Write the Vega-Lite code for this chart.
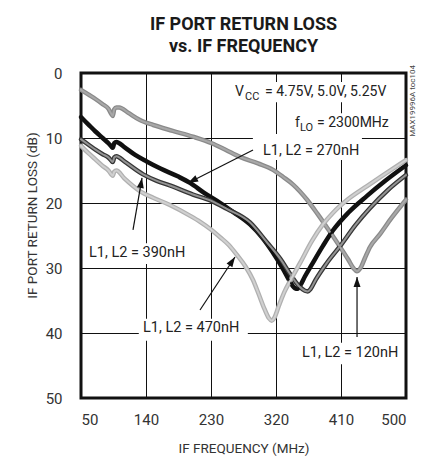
{
  "$schema": "https://vega.github.io/schema/vega-lite/v6.json",
  "width": 325,
  "height": 325,
  "autosize": "none",
  "padding": {"left": 81, "top": 73, "right": 17, "bottom": 58},
  "background": "white",
  "config": {
    "view": {"stroke": "#111", "strokeWidth": 3},
    "font": "Roboto",
    "axis": {
      "domain": false,
      "ticks": false,
      "grid": true,
      "gridColor": "#111",
      "gridWidth": 1,
      "gridOpacity": 1,
      "labelFont": "Roboto",
      "labelFontSize": 15,
      "labelColor": "#333",
      "titleFont": "Roboto",
      "titleFontSize": 13.5,
      "titleFontWeight": "normal",
      "titleColor": "#333"
    }
  },
  "title": {
    "text": ["IF PORT RETURN LOSS", "vs. IF FREQUENCY"],
    "font": "Roboto",
    "fontSize": 18,
    "fontWeight": "bold",
    "color": "#1a1a1a",
    "lineHeight": 22,
    "offset": 9,
    "anchor": "middle"
  },
  "datasets": {
    "curves": [
      {"c": "120", "f": 50, "db": 2.6}, {"c": "120", "f": 60, "db": 3.3}, {"c": "120", "f": 70, "db": 4.0}, {"c": "120", "f": 80, "db": 4.8}, {"c": "120", "f": 88, "db": 5.5}, {"c": "120", "f": 92, "db": 6.3}, {"c": "120", "f": 94, "db": 6.6}, {"c": "120", "f": 96, "db": 5.6}, {"c": "120", "f": 99, "db": 5.3}, {"c": "120", "f": 103, "db": 5.3}, {"c": "120", "f": 115, "db": 6.1}, {"c": "120", "f": 131, "db": 7.2}, {"c": "120", "f": 150, "db": 8.0}, {"c": "120", "f": 177, "db": 8.9}, {"c": "120", "f": 205, "db": 9.8}, {"c": "120", "f": 231, "db": 10.8}, {"c": "120", "f": 250, "db": 11.8}, {"c": "120", "f": 270, "db": 12.9}, {"c": "120", "f": 295, "db": 13.9}, {"c": "120", "f": 316, "db": 14.9}, {"c": "120", "f": 330, "db": 16.0}, {"c": "120", "f": 344, "db": 17.2}, {"c": "120", "f": 363, "db": 19.5}, {"c": "120", "f": 377, "db": 21.6}, {"c": "120", "f": 392, "db": 24.0}, {"c": "120", "f": 409, "db": 26.8}, {"c": "120", "f": 420, "db": 28.7}, {"c": "120", "f": 427, "db": 30.0}, {"c": "120", "f": 432, "db": 30.5}, {"c": "120", "f": 437, "db": 30.0}, {"c": "120", "f": 443, "db": 28.5}, {"c": "120", "f": 450, "db": 26.8}, {"c": "120", "f": 464, "db": 24.8}, {"c": "120", "f": 480, "db": 22.3}, {"c": "120", "f": 500, "db": 19.5},
      {"c": "270", "f": 50, "db": 6.8}, {"c": "270", "f": 60, "db": 7.9}, {"c": "270", "f": 70, "db": 9.0}, {"c": "270", "f": 80, "db": 10.0}, {"c": "270", "f": 88, "db": 10.8}, {"c": "270", "f": 92, "db": 11.3}, {"c": "270", "f": 94, "db": 11.5}, {"c": "270", "f": 96, "db": 10.8}, {"c": "270", "f": 99, "db": 10.6}, {"c": "270", "f": 110, "db": 11.4}, {"c": "270", "f": 125, "db": 12.6}, {"c": "270", "f": 141, "db": 13.6}, {"c": "270", "f": 160, "db": 14.7}, {"c": "270", "f": 184, "db": 15.9}, {"c": "270", "f": 201, "db": 16.9}, {"c": "270", "f": 220, "db": 18.4}, {"c": "270", "f": 243, "db": 20.0}, {"c": "270", "f": 261, "db": 21.4}, {"c": "270", "f": 284, "db": 23.3}, {"c": "270", "f": 300, "db": 25.2}, {"c": "270", "f": 315, "db": 27.5}, {"c": "270", "f": 330, "db": 30.2}, {"c": "270", "f": 340, "db": 32.2}, {"c": "270", "f": 346, "db": 33.1}, {"c": "270", "f": 350, "db": 33.2}, {"c": "270", "f": 354, "db": 32.6}, {"c": "270", "f": 360, "db": 31.3}, {"c": "270", "f": 370, "db": 29.4}, {"c": "270", "f": 385, "db": 26.6}, {"c": "270", "f": 399, "db": 24.2}, {"c": "270", "f": 420, "db": 21.5}, {"c": "270", "f": 446, "db": 18.9}, {"c": "270", "f": 470, "db": 16.7}, {"c": "270", "f": 500, "db": 14.2},
      {"c": "390", "f": 50, "db": 10.2}, {"c": "390", "f": 60, "db": 11.0}, {"c": "390", "f": 70, "db": 11.8}, {"c": "390", "f": 80, "db": 12.5}, {"c": "390", "f": 88, "db": 13.0}, {"c": "390", "f": 92, "db": 13.5}, {"c": "390", "f": 94, "db": 13.7}, {"c": "390", "f": 96, "db": 13.0}, {"c": "390", "f": 99, "db": 12.8}, {"c": "390", "f": 110, "db": 13.6}, {"c": "390", "f": 136, "db": 15.6}, {"c": "390", "f": 155, "db": 16.6}, {"c": "390", "f": 173, "db": 17.3}, {"c": "390", "f": 205, "db": 18.7}, {"c": "390", "f": 229, "db": 19.6}, {"c": "390", "f": 252, "db": 20.9}, {"c": "390", "f": 284, "db": 23.0}, {"c": "390", "f": 307, "db": 26.0}, {"c": "390", "f": 326, "db": 28.6}, {"c": "390", "f": 340, "db": 31.0}, {"c": "390", "f": 352, "db": 32.8}, {"c": "390", "f": 360, "db": 33.5}, {"c": "390", "f": 364, "db": 33.6}, {"c": "390", "f": 368, "db": 33.2}, {"c": "390", "f": 375, "db": 31.8}, {"c": "390", "f": 390, "db": 29.3}, {"c": "390", "f": 409, "db": 26.6}, {"c": "390", "f": 430, "db": 23.4}, {"c": "390", "f": 450, "db": 20.8}, {"c": "390", "f": 475, "db": 18.0}, {"c": "390", "f": 500, "db": 15.7},
      {"c": "470", "f": 50, "db": 11.2}, {"c": "470", "f": 60, "db": 12.3}, {"c": "470", "f": 70, "db": 13.3}, {"c": "470", "f": 80, "db": 14.3}, {"c": "470", "f": 88, "db": 15.0}, {"c": "470", "f": 92, "db": 15.6}, {"c": "470", "f": 94, "db": 15.8}, {"c": "470", "f": 96, "db": 15.2}, {"c": "470", "f": 99, "db": 15.0}, {"c": "470", "f": 110, "db": 16.2}, {"c": "470", "f": 132, "db": 18.2}, {"c": "470", "f": 150, "db": 19.2}, {"c": "470", "f": 173, "db": 20.3}, {"c": "470", "f": 200, "db": 21.9}, {"c": "470", "f": 215, "db": 22.9}, {"c": "470", "f": 229, "db": 24.0}, {"c": "470", "f": 243, "db": 25.3}, {"c": "470", "f": 255, "db": 26.5}, {"c": "470", "f": 266, "db": 28.0}, {"c": "470", "f": 278, "db": 29.8}, {"c": "470", "f": 288, "db": 31.8}, {"c": "470", "f": 296, "db": 34.0}, {"c": "470", "f": 304, "db": 36.3}, {"c": "470", "f": 310, "db": 37.7}, {"c": "470", "f": 314, "db": 38.1}, {"c": "470", "f": 318, "db": 37.6}, {"c": "470", "f": 324, "db": 35.8}, {"c": "470", "f": 332, "db": 33.6}, {"c": "470", "f": 339, "db": 32.1}, {"c": "470", "f": 353, "db": 29.3}, {"c": "470", "f": 370, "db": 25.8}, {"c": "470", "f": 385, "db": 23.3}, {"c": "470", "f": 399, "db": 21.5}, {"c": "470", "f": 420, "db": 19.4}, {"c": "470", "f": 446, "db": 17.4}, {"c": "470", "f": 470, "db": 15.6}, {"c": "470", "f": 500, "db": 13.4}
    ],
    "boxes": [
      {"f": 288, "f2": 439, "db": 9.4, "db2": 13.4},
      {"f": 259, "f2": 491.7, "db": 1.4, "db2": 4.5},
      {"f": 342, "f2": 489, "db": 6.2, "db2": 9.4},
      {"f": 57, "f2": 201, "db": 26.2, "db2": 29.4},
      {"f": 130, "f2": 281, "db": 37.8, "db2": 41.2},
      {"f": 352, "f2": 493, "db": 41.5, "db2": 44.8}
    ],
    "arrows": [
      {"f": 288.2, "db": 11.85, "f2": 198.2, "db2": 16.92},
      {"f": 122.0, "db": 24.15, "f2": 134.5, "db2": 16.15},
      {"f": 214.8, "db": 36.46, "f2": 263.2, "db2": 28.31},
      {"f": 432.2, "db": 40.6, "f2": 432.2, "db2": 31.38}
    ],
    "heads": [
      {"f": 204.4, "db": 16.57, "ang": 243.1},
      {"f": 133.3, "db": 16.91, "ang": 9.8},
      {"f": 259.4, "db": 28.95, "ang": 33.4},
      {"f": 432.2, "db": 32.15, "ang": 0}
    ],
    "labels": [
      {"text": "L1, L2 = 270nH", "f": 302.0, "db": 12.0},
      {"text": "L1, L2 = 390nH", "f": 61.1, "db": 27.7},
      {"text": "L1, L2 = 470nH", "f": 135.8, "db": 39.2},
      {"text": "L1, L2 = 120nH", "f": 356.0, "db": 43.1}
    ],
    "header": [
      {"text": "V", "f": 263.2, "db": 2.9},
      {"text": "= 4.75V, 5.0V, 5.25V", "f": 304.8, "db": 2.9},
      {"text": "f", "f": 346.3, "db": 7.7},
      {"text": "= 2300MHz", "f": 376.8, "db": 7.7}
    ],
    "subs": [
      {"text": "CC", "f": 277.1, "db": 3.7},
      {"text": "LO", "f": 353.2, "db": 8.5}
    ],
    "toc": [
      {"text": "MAX19996A toc104", "f": 509.7, "db": 4.3}
    ]
  },
  "resolve": {"scale": {"color": "independent"}},
  "layer": [
    {
      "data": {"name": "boxes"},
      "mark": {"type": "rect", "fill": "white", "stroke": null},
      "encoding": {
        "x": {
          "field": "f", "type": "quantitative",
          "scale": {"domain": [50, 500], "nice": false, "zero": false},
          "axis": {"values": [50, 140, 230, 320, 410, 500], "title": "IF FREQUENCY (MHz)", "labelPadding": 14, "titleY": 50, "titleBaseline": "middle"}
        },
        "x2": {"field": "f2"},
        "y": {
          "field": "db", "type": "quantitative",
          "scale": {"domain": [0, 50], "reverse": true, "nice": false, "zero": false},
          "axis": {"values": [0, 10, 20, 30, 40, 50], "title": "IF PORT RETURN LOSS (dB)", "labelPadding": 19, "titleX": -49, "titleY": 142, "titleBaseline": "middle"}
        },
        "y2": {"field": "db2"}
      }
    },
    {
      "data": {"name": "curves"},
      "mark": {"type": "line", "strokeWidth": 4.5, "interpolate": "monotone", "strokeJoin": "round", "strokeCap": "round"},
      "encoding": {
        "x": {"field": "f", "type": "quantitative"},
        "y": {"field": "db", "type": "quantitative"},
        "color": {"field": "c", "type": "nominal", "scale": {"domain": ["120", "270", "390", "470"], "range": ["#8a8a8a", "#111111", "#363636", "#b0b0b0"]}, "legend": null}
      }
    },
    {
      "data": {"name": "curves"},
      "mark": {"type": "line", "strokeWidth": 2, "interpolate": "monotone", "strokeJoin": "round", "strokeCap": "round"},
      "encoding": {
        "x": {"field": "f", "type": "quantitative"},
        "y": {"field": "db", "type": "quantitative"},
        "color": {"field": "c", "type": "nominal", "scale": {"domain": ["120", "270", "390", "470"], "range": ["#a8a8a8", "#111111", "#939393", "#d0d0d0"]}, "legend": null}
      }
    },
    {
      "data": {"name": "arrows"},
      "mark": {"type": "rule", "color": "#111", "strokeWidth": 1.2},
      "encoding": {
        "x": {"field": "f", "type": "quantitative"},
        "y": {"field": "db", "type": "quantitative"},
        "x2": {"field": "f2"},
        "y2": {"field": "db2"}
      }
    },
    {
      "data": {"name": "heads"},
      "mark": {"type": "point", "shape": "M0,-1L0.7,1L-0.7,1Z", "filled": true, "color": "#111", "size": 100, "opacity": 1},
      "encoding": {
        "x": {"field": "f", "type": "quantitative"},
        "y": {"field": "db", "type": "quantitative"},
        "angle": {"field": "ang", "type": "quantitative", "scale": null}
      }
    },
    {
      "data": {"name": "labels"},
      "mark": {"type": "text", "align": "left", "baseline": "middle", "fontSize": 14.5, "color": "#222", "font": "Roboto"},
      "encoding": {
        "x": {"field": "f", "type": "quantitative"},
        "y": {"field": "db", "type": "quantitative"},
        "text": {"field": "text"}
      }
    },
    {
      "data": {"name": "header"},
      "mark": {"type": "text", "align": "left", "baseline": "middle", "fontSize": 14, "color": "#222", "font": "Roboto"},
      "encoding": {
        "x": {"field": "f", "type": "quantitative"},
        "y": {"field": "db", "type": "quantitative"},
        "text": {"field": "text"}
      }
    },
    {
      "data": {"name": "subs"},
      "mark": {"type": "text", "align": "left", "baseline": "middle", "fontSize": 11, "color": "#222", "font": "Roboto"},
      "encoding": {
        "x": {"field": "f", "type": "quantitative"},
        "y": {"field": "db", "type": "quantitative"},
        "text": {"field": "text"}
      }
    },
    {
      "data": {"name": "toc"},
      "mark": {"type": "text", "align": "center", "baseline": "middle", "angle": 270, "fontSize": 8, "color": "#444", "font": "Roboto"},
      "encoding": {
        "x": {"field": "f", "type": "quantitative"},
        "y": {"field": "db", "type": "quantitative"},
        "text": {"field": "text"}
      }
    }
  ]
}
